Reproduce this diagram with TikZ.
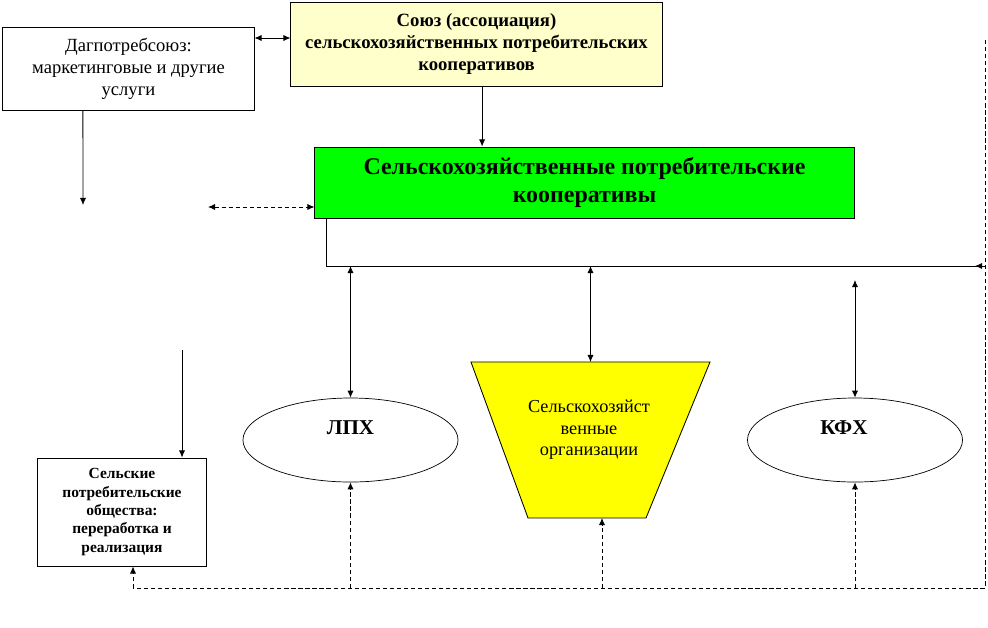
\documentclass[tikz,border=0pt]{standalone}
\usepackage{fontspec}
\setmainfont{Liberation Serif}
\usetikzlibrary{arrows.meta, positioning, calc, shapes.geometric}
\definecolor{unionbg}{HTML}{FFFFCC}
\definecolor{coopbg}{HTML}{00FF00}
\definecolor{orgbg}{HTML}{FFFF00}

\begin{document}
\begin{tikzpicture}[
				x=0.025cm, y=-0.025cm,
				arrtip/.style={-{Latex[length=5pt,width=4.4pt]}},
				arr/.style={arrtip, line width=0.6pt},
				dblarr/.style={{Latex[length=5pt,width=4.4pt]}-{Latex[length=5pt,width=4.4pt]}, line width=0.6pt},
				dasharr/.style={arr, dash pattern=on 3pt off 2pt},
				dashline/.style={line width=0.6pt, dash pattern=on 3pt off 2pt},
				box/.style={
						draw,
						line width=0.7pt,
						align=center,
						inner sep=2pt,
						text centered,
					},
				farm/.style={
						ellipse,
						draw,
						line width=0.5pt,
						minimum width=5.375cm,
						minimum height=2.1cm,
					},
			]

			\useasboundingbox (0,0) rectangle (988,627);

			% Верхний ряд
			\node[box, minimum width=6.275cm, minimum height=2.075cm,
				font=\fontsize{13.2}{15.6}\selectfont] (dag) at (128.5,68.5)
			{Дагпотребсоюз:\\маркетинговые и другие\\услуги};
			\node[box, fill=unionbg, minimum width=9.275cm, minimum height=2.1cm,
				font=\fontsize{13.3}{15.6}\selectfont\bfseries] (union) at (476.5,44)
			{Союз (ассоциация)\\сельскохозяйственных потребительских\\кооперативов};

			% Кооперативы
			\node[box, fill=coopbg, minimum width=13.475cm, minimum height=1.775cm,
				font=\fontsize{17}{20.5}\selectfont\bfseries] (coop) at (584.5,182.5)
			{Сельскохозяйственные потребительские\\кооперативы};

			% Потребительские общества
			\node[box, minimum width=4.2cm, minimum height=2.7cm,
				font=\fontsize{11}{13}\selectfont\bfseries] (soc) at (122,512)
			{Сельские\\потребительские\\общества:\\переработка и\\реализация};

			% ЛПХ и КФХ
			\node[farm] (lph) at (350.5,440) {};
			\node[font=\fontsize{15}{18}\selectfont\bfseries] (lphtext) at (350.5,428) {ЛПХ};
			\node[farm] (kfh) at (855,440) {};
			\node[font=\fontsize{15}{18}\selectfont\bfseries] (kfhtext) at (844,428) {КФХ};

			% Сельскохозяйственные организации (трапеция)
			\draw[fill=orgbg, line width=0.6pt] (471,362) -- (710,362) -- (646,518) -- (528,518) -- cycle;
			\coordinate (orgtop) at (590.5,362);
			\coordinate (orgin) at (602,518);
			\node[align=center, font=\fontsize{13}{15.2}\selectfont] (org) at (589,430)
			{Сельскохозяйст\\венные\\организации};

			% Вспомогательные точки
			\coordinate (busL) at (326,266);
			\coordinate (busR) at (985,266);
			\coordinate (dagend) at (83,205);
			\coordinate (dashend) at (208,207);
			\coordinate (socin) at (182,350);
			\coordinate (kfhin) at (855,280);
			\coordinate (loopT) at (985,40);
			\coordinate (loopB) at (985,588);
			\coordinate (uw) at ([yshift=0.15cm]union.west);

			% Связи сверху
			\draw[dblarr] (uw -| dag.east) -- (uw);
			\draw[arr] ([xshift=0.14cm]union.south) -- ([xshift=0.14cm]union.south |- coop.north);
			\draw[arr] ([xshift=-1.14cm]dag.south) -- (dagend);
			\draw[dblarr, dash pattern=on 3pt off 2pt] (dashend) -- (dashend -| coop.west);

			% Шина
			\draw[line width=0.6pt] (busL |- coop.south) -- (busL) -- (busR);
			\draw[arr] (busR) -- ++(-10,0);
			\draw[dblarr] (lph.north |- busL) -- (lph.north);
			\draw[dblarr] (orgtop |- busL) -- (orgtop);
			\draw[dblarr] (kfhin) -- (kfh.north);
			\draw[arr] (socin) -- (socin |- soc.north);

			% Пунктирный контур снизу
			\draw[dashline] (loopT) -- (loopB) -- ([xshift=0.275cm]soc.south |- loopB);
			\draw[dasharr] ([xshift=0.275cm]soc.south |- loopB) -- ([xshift=0.275cm]soc.south);
			\draw[dasharr] (lph.south |- loopB) -- (lph.south);
			\draw[dasharr] (orgin |- loopB) -- (orgin);
			\draw[dasharr] (kfh.south |- loopB) -- (kfh.south);

		\end{tikzpicture}
\end{document}
